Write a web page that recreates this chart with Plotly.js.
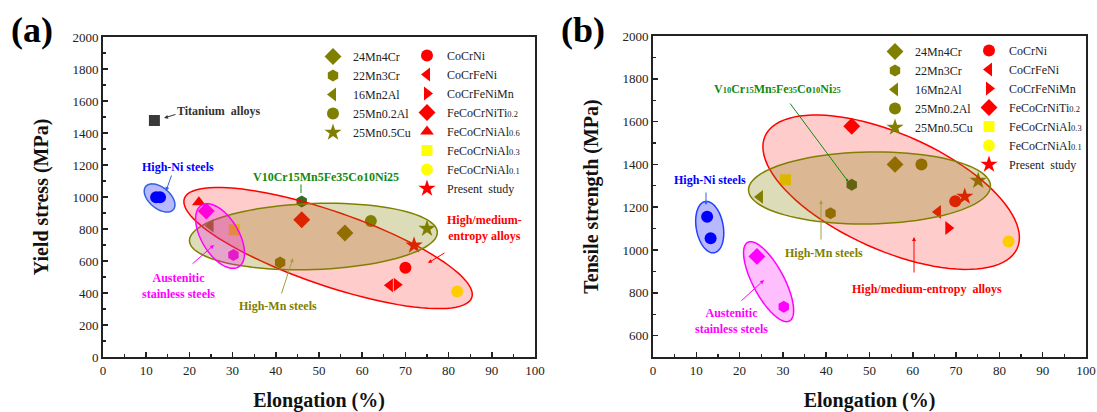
<!DOCTYPE html>
<html><head><meta charset="utf-8">
<script src="https://cdn.plot.ly/plotly-3.0.1.min.js"></script>
<style>html,body{margin:0;padding:0;background:#fff}#chart{width:1097px;height:412px}</style>
</head><body><div id="chart"></div><script>
// ---------- DATA ----------
const SUB = s => '<span style="font-size:8.5px">' + s + '</span>';
const seriesNames = ['24Mn4Cr','22Mn3Cr','16Mn2Al','25Mn0.2Al','25Mn0.5Cu','CoCrNi','CoCrFeNi','CoCrFeNiMn',
  'FeCoCrNiTi'+SUB('0.2'),'FeCoCrNiAl'+SUB('0.6'),'FeCoCrNiAl'+SUB('0.3'),'FeCoCrNiAl'+SUB('0.1'),'Present  study'];
// panel (a): elongation (%) and yield stress (MPa)
const elongA        = [56, 41, 24.9, 62, 75, 70, 66.4, 68, 46, 22.2, 30.4, 82, 72];
const yieldStress   = [775, 590, 821, 850, 802, 558, 448, 452, 858, 967, 795, 410, 698];
// panel (b): elongation (%) and tensile strength (MPa)
const elongB          = [55.9, 41, 24.7, 62, 75.1, 69.8, 65.8, 68.2, 45.9, null, 30.6, 82.1, 72];
const tensileStrength = [1400, 1172, 1248, 1400, 1324, 1228, 1178, 1103, 1578, null, 1328, 1040, 1250];
// other alloy groups
const titaniumElong = [11.9], titaniumYield = [1478];
const highNiElongA = [12.3, 13.2], highNiYield = [998, 998];
const highNiElongB = [12.5, 13.3], highNiTensile = [1155, 1055];
const austDiamondElongA = [23.9], austDiamondYield = [912];
const austHexElongA = [30.2], austHexYield = [637];
const austDiamondElongB = [24.0], austDiamondTensile = [970];
const austHexElongB = [30.2], austHexTensile = [735];
const vAlloyElongA = [46], vAlloyYield = [972];
const vAlloyElongB = [45.9], vAlloyTensile = [1305];

// ---------- STYLE ----------
const SERIF = 'Liberation Serif';
const OLIVE = '#808000', RED = '#ff0000', YEL = '#ffff00';
const symbols = ['diamond','hexagon','triangle-left','circle','star','circle','triangle-left','triangle-right','diamond','triangle-up','square','circle','star'];
const colors  = [OLIVE,OLIVE,OLIVE,OLIVE,OLIVE,RED,RED,RED,RED,RED,YEL,YEL,RED];
const sizes   = [13,12,12,12,13,12,12,12,13,12,11,12,13];

const traces = [];
function pt(x,y,sym,col,size,xa,ya,extra){
  return Object.assign({type:'scatter',mode:'markers',x:x,y:y,xaxis:xa,yaxis:ya,
    marker:{symbol:sym,color:col,size:size,line:{width:0}},hoverinfo:'skip',showlegend:false},extra||{});
}
// panel (a)
traces.push(pt(titaniumElong,titaniumYield,'square','#3a3a3a',11,'x','y'));
traces.push(pt(highNiElongA,highNiYield,'circle','#0000ff',12,'x','y'));
traces.push(pt(austDiamondElongA,austDiamondYield,'diamond','#ff00ff',13,'x','y'));
traces.push(pt(austHexElongA,austHexYield,'hexagon','#ff00ff',12,'x','y'));
traces.push(pt(vAlloyElongA,vAlloyYield,'hexagon','#2f6f1f',12,'x','y'));
seriesNames.forEach((n,i)=>{
  traces.push(pt([elongA[i]],[yieldStress[i]],symbols[i],colors[i],sizes[i],'x','y',
    {name:n,showlegend:true,legend: i<5?'legend':'legend2'}));
});
// panel (b)
traces.push(pt(highNiElongB,highNiTensile,'circle','#0000ff',12,'x2','y2'));
traces.push(pt(austDiamondElongB,austDiamondTensile,'diamond','#ff00ff',13,'x2','y2'));
traces.push(pt(austHexElongB,austHexTensile,'hexagon','#ff00ff',12,'x2','y2'));
traces.push(pt(vAlloyElongB,vAlloyTensile,'hexagon','#2f6f1f',12,'x2','y2'));
seriesNames.forEach((n,i)=>{
  if(elongB[i]===null) return;
  traces.push(pt([elongB[i]],[tensileStrength[i]],symbols[i],colors[i],sizes[i],'x2','y2',
    {name:n,showlegend:true,legend: i<5?'legend3':'legend4'}));
});

// ---------- ELLIPSES (group envelopes) ----------
const kA = {x:4.32, y:0.16}, kB = {x:4.33, y:0.214};   // px per data unit
function ellipse(cx,cy,a,b,deg,k,xr,yr,line,fill){
  const th=deg*Math.PI/180; let d='';
  for(let i=0;i<=96;i++){const t=2*Math.PI*i/96;
    const px=a*Math.cos(t)*Math.cos(th)-b*Math.sin(t)*Math.sin(th);
    const py=a*Math.cos(t)*Math.sin(th)+b*Math.sin(t)*Math.cos(th);
    d+=(i?'L':'M')+(cx+px/k.x).toFixed(3)+','+(cy+py/k.y).toFixed(3);}
  return {type:'path',path:d+'Z',xref:xr,yref:yr,line:{color:line,width:1.5},fillcolor:fill,layer:'above'};
}
const fRed='rgba(255,0,0,0.2)', fOl='rgba(128,128,0,0.28)', fMag='rgba(255,0,255,0.25)', fBlue='rgba(0,0,255,0.28)';
const shapes = [
  ellipse(52.1,681,152,37,-19,kA,'x','y',RED,fRed),
  ellipse(48.7,753,124,33,2,kA,'x','y',OLIVE,fOl),
  ellipse(27.1,756,36,18.6,-59,kA,'x','y','#ff00ff',fMag),
  ellipse(13.1,994,18,10.5,-40,kA,'x','y','#3060e0',fBlue),
  ellipse(55.0,1270,138,58,-24,kB,'x2','y2',RED,fRed),
  ellipse(50.0,1290,121,36,1,kB,'x2','y2',OLIVE,fOl),
  ellipse(13.1,1107,26,13.5,100,kB,'x2','y2','#2040ff',fBlue),
  ellipse(26.7,852,44.5,15.6,-62,kB,'x2','y2','#ff00ff',fMag)
];

// ---------- ANNOTATIONS ----------
const W=1097,H=412; const PX=x=>x/W, PY=y=>1-y/H;
function label(x,y,text,color,size){return {xref:'paper',yref:'paper',x:PX(x),y:PY(y),text:text,showarrow:false,
  font:{family:SERIF,size:size||12,color:color},xanchor:'center',yanchor:'middle',align:'center'};}
function arrow(x0,y0,x1,y1,color,head,sz){return {xref:'paper',yref:'paper',x:PX(x1),y:PY(y1),axref:'paper',ayref:'paper',
  ax:PX(x0),ay:PY(y0),text:'',showarrow:true,arrowhead:head,arrowsize:sz||0.8,arrowwidth:1,arrowcolor:color};}
const S = s => '<span style="font-size:8.5px">' + s + '</span>';
const annotations = [
  label(32,30,'<b>(a)</b>','#000',36),
  label(583,30,'<b>(b)</b>','#000',36),
  // panel a
  label(218,111,'<b>Titanium  alloys</b>','#333',12), arrow(177,114,164,118,'#333',2),
  label(178,167,'<b>High-Ni steels</b>','#0000ff',12), arrow(172,174,166,191,'#3060e0',2),
  label(326,177,'<b>V10Cr15Mn5Fe35Co10Ni25</b>','#138a13',12), arrow(301,183,301,193,'#138a13',0),
  label(484,228,'<b>High/medium-</b><br><b>entropy alloys</b>','#ff0000',12), arrow(446,252,428,263,'#ff0000',2),
  label(178,286,'<b>Austenitic</b><br><b>stainless steels</b>','#ff00ff',12), arrow(191,265,214,245,'#ff00ff',2),
  label(278,306,'<b>High-Mn steels</b>','#808000',12), arrow(281,295,293,258,'#a0a040',2),
  // panel b
  label(710,180,'<b>High-Ni steels</b>','#0000ff',12), arrow(706,191,706,205,'#3060e0',2),
  label(777,89,'<b>V'+S('10')+'Cr'+S('15')+'Mn'+S('5')+'Fe'+S('35')+'Co'+S('10')+'Ni'+S('25')+'</b>','#138a13',12),
  arrow(789,102,847,180,'#138a13',6,0.6),
  label(731,321,'<b>Austenitic</b><br><b>stainless steels</b>','#ff00ff',12), arrow(740,302,764,280,'#ff00ff',2),
  label(824,253,'<b>High-Mn steels</b>','#808000',12), arrow(821,241,821,200,'#a0a040',2),
  label(927,289,'<b>High/medium-entropy  alloys</b>','#ff0000',12), arrow(914,274,914,237,'#ff0000',2)
];

// ---------- LAYOUT ----------
function xax(domain,anchor){return {domain:domain,anchor:anchor,range:[0,100],dtick:10,tick0:0,ticks:'inside',ticklen:5,tickwidth:1.5,
  tickcolor:'#222',minor:{dtick:5,ticks:'inside',ticklen:3,tickwidth:1.2,tickcolor:'#222'},showline:true,linewidth:2,linecolor:'#222',mirror:true,
  showgrid:false,zeroline:false,tickfont:{family:SERIF,size:13,color:'#222'},
  title:{text:'<b>Elongation (%)</b>',font:{family:SERIF,size:20,color:'#111'},standoff:16}};}
function yax(domain,anchor,range,title){return {domain:domain,anchor:anchor,range:range,dtick:200,tick0:0,ticks:'inside',ticklen:5,tickwidth:1.5,
  tickcolor:'#222',minor:{dtick:100,ticks:'inside',ticklen:3,tickwidth:1.2,tickcolor:'#222'},showline:true,linewidth:2,linecolor:'#222',mirror:true,
  showgrid:false,zeroline:false,tickfont:{family:SERIF,size:13,color:'#222'},
  title:{text:title,font:{family:SERIF,size:20,color:'#111'},standoff:18}};}
function leg(x,y){return {x:PX(x),y:PY(y),xanchor:'left',yanchor:'top',bgcolor:'rgba(0,0,0,0)',borderwidth:0,
  font:{family:SERIF,size:12,color:'#222'},tracegroupgap:0,itemsizing:'trace'};}
const layout = {
  width:W,height:H,margin:{l:0,r:0,t:0,b:0},paper_bgcolor:'#fff',plot_bgcolor:'#fff',
  font:{family:SERIF},
  xaxis:xax([103/W,535/W],'y'),
  yaxis:yax([55/H,375/H],'x',[0,2000],'<b>Yield stress (MPa)</b>'),
  xaxis2:xax([653/W,1086/W],'y2'),
  yaxis2:yax([55/H,376/H],'x2',[500,2000],'<b>Tensile strength (MPa)</b>'),
  legend:leg(313,42), legend2:leg(407,41), legend3:leg(875,37), legend4:leg(969,36),
  shapes:shapes, annotations:annotations, showlegend:true
};
Plotly.newPlot('chart',traces,layout,{staticPlot:true,displayModeBar:false});
</script></body></html>
